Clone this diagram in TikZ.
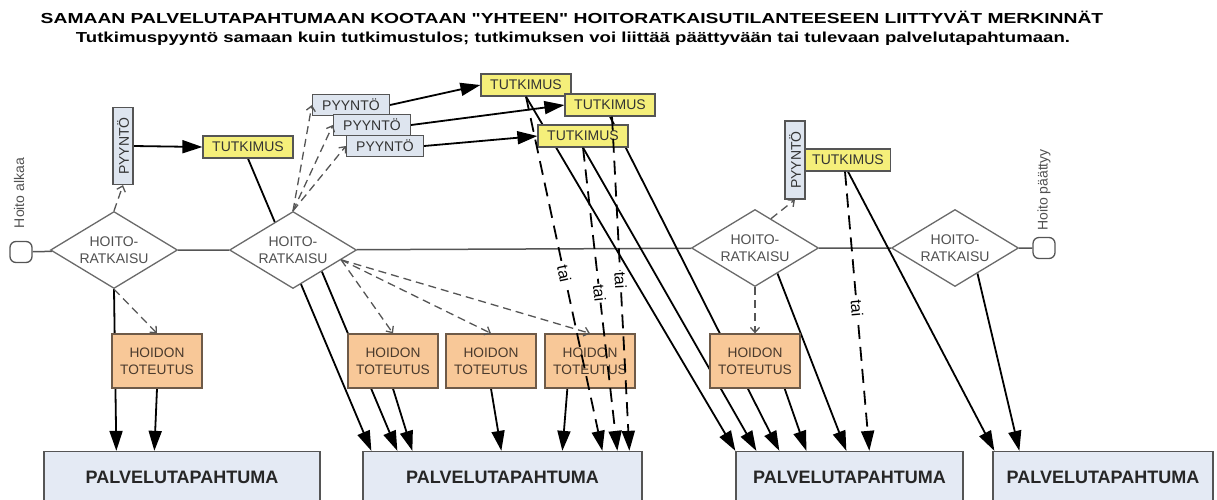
\documentclass[tikz,border=0pt]{standalone}
\usepackage{fontspec}
\setmainfont{Liberation Sans}[Ligatures=TeXOff]
\usepackage{tikz}
\usetikzlibrary{shapes.geometric,arrows.meta,calc,backgrounds}

\definecolor{viiva}{HTML}{555555}
\definecolor{ratkraja}{HTML}{6A6A6A}
\definecolor{ratkteksti}{HTML}{505050}
\definecolor{pvtausta}{HTML}{E4EAF4}
\definecolor{hoitausta}{HTML}{F8C898}
\definecolor{hoiraja}{HTML}{6E5A48}
\definecolor{hoiteksti}{HTML}{4A3A2C}
\definecolor{tuttausta}{HTML}{F5EF7A}
\definecolor{pyytausta}{HTML}{DEE5EF}

\begin{document}
\begin{tikzpicture}[
  x=1pt, y=-1pt,
  every node/.style={font=\fontsize{14}{17}\selectfont},
  otsikko/.style={anchor=base, inner sep=0pt,
    font=\fontsize{14.5}{17}\selectfont\bfseries},
  ratkaisu/.style={shape=diamond, draw=ratkraja, fill=white, line width=1.3pt,
    minimum width=127pt, minimum height=77pt, aspect=1.65, inner sep=0pt,
    align=center, text=ratkteksti},
  paate/.style={draw=viiva, fill=white, rounded corners=6pt, line width=1.3pt,
    minimum width=22pt, minimum height=21pt, inner sep=0pt},
  paateteksti/.style={rotate=90, text=ratkteksti},
  pyynto/.style={draw=viiva, fill=pyytausta, line width=1.2pt, inner sep=0pt,
    minimum width=77pt, minimum height=21pt, text=black!80},
  tutkimus/.style={draw=viiva, fill=tuttausta, line width=1.2pt, inner sep=0pt,
    minimum width=90pt, minimum height=22pt, text=black!80},
  hoidon/.style={draw=hoiraja, fill=hoitausta, line width=1.3pt, inner sep=0pt,
    minimum width=90pt, minimum height=54pt, align=center, text=hoiteksti,
    font=\fontsize{13.7}{17}\selectfont},
  palvelu/.style={draw=viiva, fill=pvtausta, line width=1.3pt, inner sep=0pt,
    minimum height=51pt, font=\fontsize{18}{21}\selectfont\bfseries,
    text=black!85},
  runko/.style={draw=viiva, line width=1.5pt},
  nuoli/.style={line width=1.8pt, -{Triangle[length=20pt,width=13pt]}},
  tainuoli/.style={nuoli, dash pattern=on 14pt off 8pt},
  harmaa/.style={draw=viiva, line width=1.3pt, dash pattern=on 8pt off 5pt,
    -{Straight Barb[length=5pt,width=9pt]}},
  taiteksti/.style={sloped, fill=white, inner sep=1pt,
    font=\fontsize{16}{16}\selectfont}
]
%% --- Page --------------------------------------------------
\useasboundingbox (0,0) rectangle (1217,499);
\clip (0,0) rectangle (1217,499);

%% --- Title (wide lettering) --------------------------------
\node[otsikko] (otsikko1) at (572,23)
     {\scalebox{1.33}[1]{SAMAAN PALVELUTAPAHTUMAAN KOOTAAN "YHTEEN" HOITORATKAISUTILANTEESEEN LIITTYVÄT MERKINNÄT}};
\node[otsikko] (otsikko2) at (573,42)
     {\scalebox{1.283}[1]{Tutkimuspyyntö samaan kuin tutkimustulos; tutkimuksen voi liittää päättyvään tai tulevaan palvelutapahtumaan.}};

%% --- Care path: start, decisions, end ----------------------
\node[paate] (alku) at (21,252) {};
\node[paateteksti] (alkuteksti) at (19,193) {Hoito alkaa};
\node[ratkaisu] (hr1) at (114,250) {HOITO-\\RATKAISU};
\node[ratkaisu] (hr2) at (293,250) {HOITO-\\RATKAISU};
\node[ratkaisu] (hr3) at (755,248) {HOITO-\\RATKAISU};
\node[ratkaisu] (hr4) at (955,248) {HOITO-\\RATKAISU};
\node[paate] (loppu) at (1044,248) {};
\node[paateteksti] (lopputeksti) at (1044,190) {Hoito päättyy};

%% --- Requests and examinations ------------------------------
\node[pyynto, minimum width=20pt, minimum height=77pt] (pyyV) at (123,146)
     {\rotatebox{90}{PYYNTÖ}};
\node[tutkimus] (tutV) at (248,147) {TUTKIMUS};
\node[pyynto] (pyy1) at (351,105) {PYYNTÖ};
\node[pyynto] (pyy2) at (372,125) {PYYNTÖ};
\node[pyynto] (pyy3) at (385,146) {PYYNTÖ};
\node[tutkimus] (tutA) at (526,85) {TUTKIMUS};
\node[tutkimus] (tutB) at (610,105) {TUTKIMUS};
\node[tutkimus] (tutC) at (583,136) {TUTKIMUS};
\node[pyynto, minimum width=20pt, minimum height=78pt] (pyyO) at (795,160)
     {\rotatebox{90}{PYYNTÖ}};
\node[tutkimus, minimum width=85pt] (tutO) at (848,160) {TUTKIMUS};

%% --- Care delivery boxes -----------------------------------
\foreach \nimi/\x in {ht1/157, ht2/393, ht3/491, ht4/590, ht5/755}
  \node[hoidon] (\nimi) at (\x,361) {HOIDON\\TOTEUTUS};

%% --- Service events (cut at page bottom) --------------------
\node[palvelu, minimum width=276pt] (pt1) at (182,477) {PALVELUTAPAHTUMA};
\node[palvelu, minimum width=279pt] (pt2) at (502.5,477) {PALVELUTAPAHTUMA};
\node[palvelu, minimum width=227pt] (pt3) at (849.5,477) {PALVELUTAPAHTUMA};
\node[palvelu, minimum width=220pt] (pt4) at (1103,477) {PALVELUTAPAHTUMA};

%% --- Solid links, behind the boxes --------------------------
\begin{scope}[on background layer]
  \draw[runko] (alku) -- (hr1) -- (hr2) -- (hr3) -- (hr4) -- (loppu);
  \draw[nuoli] (pyyV.east) -- (tutV.west);
  \draw[nuoli] (pyy1.east) -- (tutA.west);
  \draw[nuoli] (pyy2.east) -- (tutB.west);
  \draw[nuoli] (pyy3.east) -- (tutC.west);
  % to pt1
  \draw[nuoli] (hr1.south) -- ($(pt1.north west)+(73,0)$);
  \draw[nuoli] (ht1.south) -- ($(pt1.north west)+(111,0)$);
  % to pt2
  \draw[nuoli] (tutV.south) -- ($(pt2.north west)+(9,0)$);
  \draw[nuoli] ($(hr2.south)!0.45!(hr2.east)$) -- ($(pt2.north west)+(35,0)$);
  \draw[nuoli] (ht2.south) -- ($(pt2.north west)+(50,0)$);
  \draw[nuoli] (ht3.south) -- ($(pt2.north west)+(139,0)$);
  \draw[nuoli] ($(ht4.south west)+(23,0)$) -- ($(pt2.north west)+(200,0)$);
  % to pt3
  \draw[nuoli] (tutA.south) -- (pt3.north west);
  \draw[nuoli] (tutC.south) -- ($(pt3.north west)+(21,0)$);
  \draw[nuoli] (tutB.south) -- ($(pt3.north west)+(44,0)$);
  \draw[nuoli] ($(ht5.south east)+(-16,0)$) -- ($(pt3.north west)+(71,0)$);
  \draw[nuoli] ($(hr3.south)!0.35!(hr3.east)$) -- ($(pt3.north west)+(111,0)$);
  % to pt4
  \draw[nuoli] (tutO.south) -- ($(pt4.north west)+(2,0)$);
  \draw[nuoli] ($(hr4.south)!0.35!(hr4.east)$) -- ($(pt4.north west)+(27,0)$);
\end{scope}

%% --- Dashed links from decisions ----------------------------
\draw[harmaa] (hr1.north) -- (pyyV.south);
\draw[harmaa] (hr2.north) -- (pyy1.west);
\draw[harmaa] (hr2.north) -- (pyy2.west);
\draw[harmaa] (hr2.north) -- (pyy3.west);
\draw[harmaa] (hr1.south) -- (ht1.north);
\foreach \kohde in {ht2,ht3,ht4}
  \draw[harmaa] ($(hr2.south)!0.75!(hr2.east)$) -- (\kohde.north);
\draw[harmaa] ($(hr3.north)!0.25!(hr3.east)$) -- (pyyO.south);
\draw[harmaa] (hr3.south) -- (ht5.north);

%% --- "tai" alternatives --------------------------------------
\draw[tainuoli] (tutA.south) -- node[taiteksti, pos=0.5] (tai1) {tai}
     ($(pt2.north west)+(240,0)$);
\draw[tainuoli] (tutC.south) -- node[taiteksti, pos=0.48] (tai2) {tai}
     ($(pt2.north west)+(255,0)$);
\draw[tainuoli] ($(tutB.south)+(2,0)$) -- node[taiteksti, pos=0.49] (tai3) {tai}
     ($(pt2.north west)+(267,0)$);
\draw[tainuoli] ($(tutO.south)+(-3,0)$) -- node[taiteksti, pos=0.49] (tai4) {tai}
     ($(pt3.north west)+(134,0)$);

\end{tikzpicture}
\end{document}
